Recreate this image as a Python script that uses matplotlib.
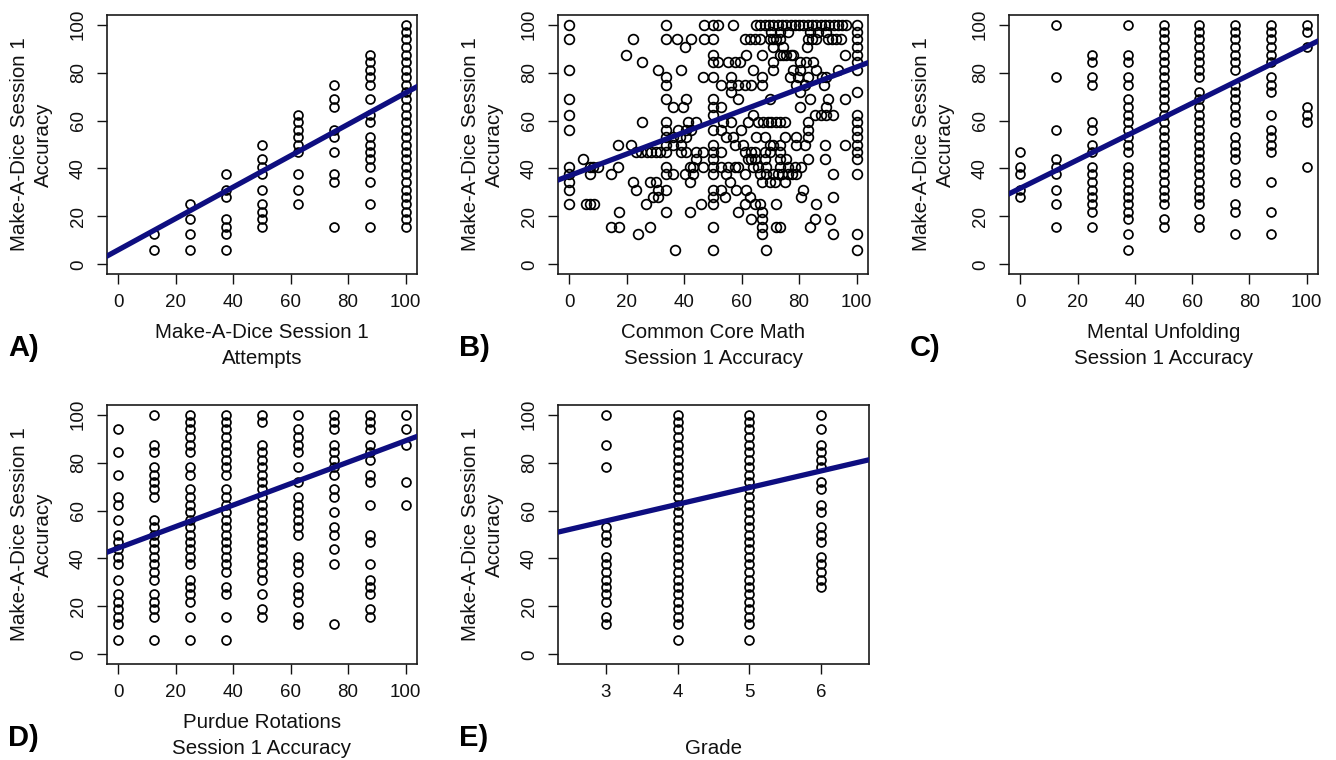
import matplotlib
matplotlib.use('Agg')
import matplotlib.pyplot as plt

plt.rcParams['font.family'] = ['Liberation Sans', 'DejaVu Sans']

W, H = 1336, 760

# ---- data (accuracy values) ----
steps = [0, 12.5, 25, 37.5, 50, 62.5, 75, 87.5, 100]

a_x = [12.5, 25, 37.5, 50, 62.5, 75, 87.5, 100]
a_y = [
    [6.2, 12.5],
    [6.2, 12.5, 18.8, 25],
    [6.2, 12.5, 15.6, 18.8, 28.1, 31.2, 37.5],
    [15.6, 18.8, 21.9, 25, 31.2, 37.5, 40.6, 43.8, 50],
    [25, 31.2, 37.5, 46.9, 50, 53.1, 56.2, 59.4, 62.5],
    [15.6, 34.4, 37.5, 46.9, 53.1, 56.2, 65.6, 68.8, 75],
    [15.6, 25, 34.4, 40.6, 43.8, 46.9, 50, 53.1, 59.4, 62.5, 68.8, 75, 78.1, 81.2, 84.4, 87.5],
    [15.6, 18.8, 21.9, 25, 28.1, 31.2, 34.4, 37.5, 40.6, 43.8, 46.9, 50, 53.1, 56.2,
     59.4, 62.5, 65.6, 68.8, 71.9, 75, 78.1, 81.2, 84.4, 87.5, 90.6, 93.8, 96.9, 100],
]

# panel B: y level -> x positions of the points on that level
b_levels = [100, 96.9, 93.8, 90.6, 87.5, 84.4, 81.2, 78.1, 75, 71.9, 68.8, 65.6, 62.5,
            59.4, 56.2, 53.1, 50, 46.9, 43.8, 40.6, 37.5, 34.4, 31.2, 28.1, 25, 21.9,
            18.8, 15.6, 12.5, 6.2]
b_xs = [
    [0, 33.7, 47, 50, 51.7, 57, 65, 66.5, 68, 69.5, 71, 72.5, 74, 75.5, 77, 78.5, 80, 81.5,
     83, 84.5, 86, 87.5, 89, 90.5, 92, 93.5, 95, 96.5, 100],
    [70.3, 73.2, 76.1, 83.7, 86.6, 89.5, 100],
    [0, 22.3, 33.7, 37.4, 42.4, 47, 50, 61, 62.8, 64.5, 66.3, 69.8, 71, 72, 73.3, 83, 84.5,
     86, 90, 91.5, 93, 94.5, 100],
    [40.1, 71, 74.4, 82.6, 100],
    [19.8, 50, 61.4, 66.9, 73.3, 74.5, 75.6, 77, 78, 96, 100],
    [25.2, 50, 51.7, 55.2, 57.5, 59.3, 71, 80.2, 82.5, 84.9, 100],
    [0, 30.8, 39, 64, 71, 78, 80.2, 86, 93.6, 100],
    [33.7, 46.5, 50, 56.4, 66.9, 76.7, 79.7, 83.1, 87.8, 89.5],
    [33.7, 52.9, 56.4, 58.7, 61, 63.4, 66.9, 79, 81.9, 88.8],
    [56.4, 80.2, 100],
    [0, 33.7, 40.7, 50, 58.7, 69.8, 83.7, 90.1, 96],
    [36, 39.5, 50, 52.9, 80.2, 89.5],
    [0, 50, 64, 85.5, 87.5, 89.5, 91.9, 100],
    [25.2, 33.7, 41.3, 44.2, 53.5, 56.4, 62.2, 65.7, 67.5, 69, 70.3, 72, 73.5, 75, 83.1, 100],
    [0, 33.7, 37.8, 40.7, 42.4, 50, 52.9, 59.9, 83.1, 100],
    [33.7, 36, 38.4, 40.7, 54.7, 57, 65.1, 68, 75, 79, 83.1, 100],
    [16.9, 21.5, 33.7, 36, 39, 50, 57.6, 60.5, 69.8, 71, 73.3, 79, 81.9, 89, 96, 100],
    [23.3, 25, 27, 28.5, 30.2, 31.4, 33.7, 39, 40.7, 44.2, 46.5, 50, 52.9, 61, 63.4, 64.5,
     68, 69.8, 73.3, 100],
    [4.7, 44.2, 50, 62.2, 63.4, 64.5, 68, 73.3, 75.6, 83.1, 89, 100],
    [0, 7, 8.1, 9.9, 16.9, 33.7, 41.9, 43, 46.5, 50, 52.9, 55.2, 57.6, 58.7, 64, 65.7, 68.6,
     73.3, 76.2, 78.5, 80.8],
    [0, 7, 14.5, 33.7, 36, 40.1, 43, 50, 54.7, 61, 66.3, 68.6, 71, 72.5, 74, 76, 77.5, 79,
     91.9, 100],
    [0, 22.3, 27.9, 30.2, 41.9, 55.8, 66.9, 69.8, 71.5, 75],
    [0, 23.3, 30.8, 33.7, 50, 52.9, 58.1, 61.4, 81.4],
    [29.1, 30.8, 50, 54.1, 62.8, 80.8, 91.9],
    [0, 5.8, 7.3, 8.7, 26.7, 45.9, 50, 61, 64.5, 66.3, 72.1, 86],
    [17.1, 33.7, 41.9, 58.7, 66.9],
    [63.4, 66.9, 85.5, 90.7],
    [14.5, 17.1, 27.9, 50, 66.9, 72.1, 73.3, 83.7],
    [23.8, 66.9, 91.9, 100],
    [36.6, 50, 68.4, 100],
]

c_x = steps
c_y = [
    [28.1, 31.2, 37.5, 40.6, 46.9],
    [15.6, 25, 31.2, 37.5, 40.6, 43.8, 56.2, 78.1, 100],
    [15.6, 21.9, 25, 28.1, 31.2, 34.4, 37.5, 40.6, 46.9, 50, 56.2, 59.4, 75, 78.1, 84.4, 87.5],
    [6.2, 12.5, 18.8, 21.9, 25, 28.1, 31.2, 34.4, 37.5, 40.6, 46.9, 50, 53.1, 56.2, 59.4,
     62.5, 65.6, 68.8, 75, 78.1, 84.4, 87.5, 100],
    [15.6, 18.8, 25, 28.1, 31.2, 34.4, 37.5, 40.6, 43.8, 46.9, 50, 53.1, 56.2, 59.4, 62.5,
     65.6, 68.8, 71.9, 75, 78.1, 81.2, 84.4, 87.5, 90.6, 93.8, 96.9, 100],
    [15.6, 18.8, 25, 28.1, 31.2, 34.4, 37.5, 40.6, 43.8, 46.9, 50, 53.1, 56.2, 59.4, 62.5,
     65.6, 68.8, 71.9, 78.1, 81.2, 84.4, 87.5, 90.6, 93.8, 96.9, 100],
    [12.5, 21.9, 25, 34.4, 37.5, 43.8, 46.9, 50, 53.1, 59.4, 62.5, 65.6, 68.8, 71.9, 75,
     81.2, 84.4, 87.5, 90.6, 93.8, 96.9, 100],
    [12.5, 21.9, 34.4, 46.9, 50, 53.1, 56.2, 62.5, 71.9, 75, 78.1, 84.4, 87.5, 90.6, 93.8,
     96.9, 100],
    [40.6, 59.4, 62.5, 65.6, 90.6, 96.9, 100],
]

d_x = steps
d_y = [
    [6.2, 12.5, 15.6, 18.8, 21.9, 25, 31.2, 37.5, 40.6, 43.8, 46.9, 50, 56.2, 62.5, 65.6,
     75, 84.4, 93.8],
    [6.2, 15.6, 18.8, 21.9, 25, 31.2, 34.4, 37.5, 40.6, 43.8, 46.9, 50, 53.1, 56.2, 65.6,
     68.8, 71.9, 75, 78.1, 84.4, 87.5, 100],
    [6.2, 15.6, 21.9, 25, 28.1, 31.2, 37.5, 40.6, 43.8, 46.9, 50, 53.1, 56.2, 59.4, 62.5,
     65.6, 68.8, 75, 78.1, 84.4, 87.5, 90.6, 93.8, 96.9, 100],
    [6.2, 15.6, 25, 28.1, 34.4, 37.5, 40.6, 43.8, 46.9, 50, 53.1, 56.2, 59.4, 62.5, 65.6,
     68.8, 75, 78.1, 81.2, 84.4, 87.5, 90.6, 93.8, 96.9, 100],
    [15.6, 18.8, 25, 31.2, 34.4, 37.5, 40.6, 43.8, 46.9, 50, 53.1, 56.2, 59.4, 62.5, 65.6,
     68.8, 71.9, 75, 78.1, 81.2, 84.4, 87.5, 96.9, 100],
    [12.5, 15.6, 21.9, 25, 28.1, 34.4, 37.5, 40.6, 50, 53.1, 56.2, 59.4, 62.5, 65.6, 71.9,
     78.1, 84.4, 87.5, 90.6, 93.8, 100],
    [12.5, 37.5, 43.8, 50, 53.1, 59.4, 65.6, 68.8, 75, 78.1, 81.2, 84.4, 87.5, 93.8, 96.9, 100],
    [15.6, 18.8, 25, 28.1, 31.2, 37.5, 46.9, 50, 62.5, 71.9, 75, 81.2, 84.4, 87.5, 93.8,
     96.9, 100],
    [62.5, 71.9, 87.5, 93.8, 100],
]

e_x = [3, 4, 5, 6]
e_y = [
    [12.5, 15.6, 21.9, 25, 28.1, 31.2, 34.4, 37.5, 40.6, 46.9, 50, 53.1, 78.1, 87.5, 100],
    [6.2, 12.5, 15.6, 18.8, 21.9, 25, 28.1, 31.2, 34.4, 37.5, 40.6, 43.8, 46.9, 50, 53.1,
     56.2, 59.4, 62.5, 65.6, 68.8, 71.9, 75, 78.1, 81.2, 84.4, 87.5, 90.6, 93.8, 96.9, 100],
    [6.2, 12.5, 15.6, 18.8, 21.9, 25, 28.1, 31.2, 34.4, 37.5, 40.6, 43.8, 46.9, 50, 53.1,
     56.2, 59.4, 62.5, 65.6, 68.8, 71.9, 75, 78.1, 81.2, 84.4, 87.5, 90.6, 93.8, 96.9, 100],
    [28.1, 31.2, 34.4, 37.5, 40.6, 46.9, 50, 53.1, 59.4, 62.5, 68.8, 71.9, 78.1, 81.2, 84.4,
     87.5, 93.8, 100],
]

# regression lines (intercept, slope)
fit_intercepts = [6.1, 37.0, 31.8, 44.4, 34.8]
fit_slopes = [0.654, 0.453, 0.59, 0.447, 6.95]

letters = ['A)', 'B)', 'C)', 'D)', 'E)']
xlabels = [['Make-A-Dice Session 1', 'Attempts'],
           ['Common Core Math', 'Session 1 Accuracy'],
           ['Mental Unfolding', 'Session 1 Accuracy'],
           ['Purdue Rotations', 'Session 1 Accuracy'],
           ['', 'Grade']]
ylabel_lines = ['Make-A-Dice Session 1', 'Accuracy']


def flatten(xs, ys):
    px, py = [], []
    for x, col in zip(xs, ys):
        px += [x] * len(col)
        py += col
    return px, py


def rows(levels, xs):
    px, py = [], []
    for y, row in zip(levels, xs):
        px += row
        py += [y] * len(row)
    return px, py


fig = plt.figure(figsize=(W / 100, H / 100), dpi=100)

# axes boxes in pixels: left, top, right, bottom
boxes = [(107, 15, 417, 274), (558, 15, 868, 274), (1009, 15, 1318, 274),
         (107, 405, 417, 664), (558, 405, 869, 664)]
points = [flatten(a_x, a_y), rows(b_levels, b_xs), flatten(c_x, c_y),
          flatten(d_x, d_y), flatten(e_x, e_y)]
marker_size = [6.4, 7.0, 6.4, 6.4, 6.4]

txt = '#111111'
for i, (l, t, r, b) in enumerate(boxes):
    ax = fig.add_axes([l / W, 1 - b / H, (r - l) / W, (b - t) / H])
    px, py = points[i]
    ax.plot(px, py, 'o', ls='none', mfc='none', mec='black', ms=marker_size[i],
            mew=1.25, zorder=2)
    ax.axline((0, fit_intercepts[i]), slope=fit_slopes[i], color='#0e0e80', lw=3.8,
              zorder=3)

    if i == 4:
        ax.set_xlim(2.33, 6.67)
        ax.set_xticks(e_x)
    else:
        ax.set_xlim(-4, 104)
        ax.set_xticks([0, 20, 40, 60, 80, 100])
    ax.set_ylim(-4, 104)
    ax.set_yticks([0, 20, 40, 60, 80, 100])

    ax.tick_params(direction='out', length=7.5, width=1.0, pad=7, labelsize=13.5,
                   colors=txt)
    for lab in ax.get_yticklabels():
        lab.set_rotation(90)
        lab.set_va('center')
    for sp in ax.spines.values():
        sp.set_linewidth(1.2)
        sp.set_color('#1a1a1a')

    # y label (two lines)
    for dx, s in zip([-88, -64], ylabel_lines):
        ax.annotate(s, xy=(0, 0.5), xycoords='axes fraction', xytext=(dx, 0),
                    textcoords='offset pixels', rotation=90, ha='center',
                    va='center', fontsize=14.8, color=txt)
    # x label (two lines)
    for dy, s in zip([-59, -84], xlabels[i]):
        ax.annotate(s, xy=(0.5, 0), xycoords='axes fraction', xytext=(0, dy),
                    textcoords='offset pixels', ha='center', va='center',
                    fontsize=14.8, color=txt)
    # panel letter
    ax.annotate(letters[i], xy=(0, 0), xycoords='axes fraction', xytext=(-99, -74),
                textcoords='offset pixels', ha='left', va='center', fontsize=21,
                fontweight='bold', color='black')

fig.savefig('out.png', dpi=100)
